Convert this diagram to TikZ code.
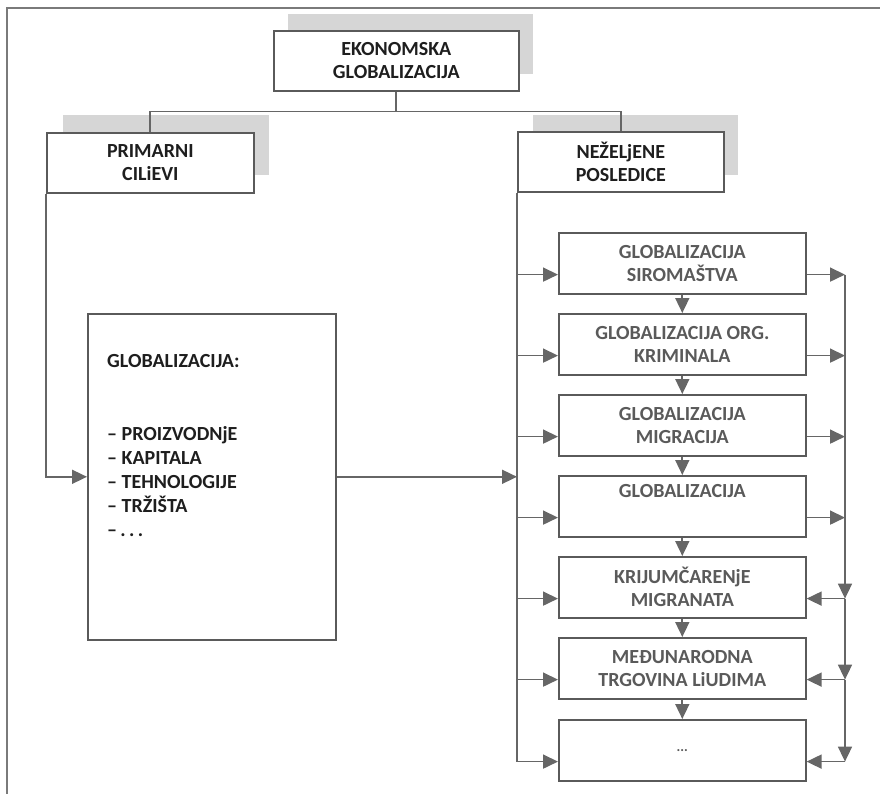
\documentclass[tikz,border=0pt]{standalone}
\usepackage{fontspec}
\setmainfont{Carlito}
\usetikzlibrary{arrows.meta}
\definecolor{ln}{HTML}{666666}
\definecolor{bx}{HTML}{5A5A5A}
\definecolor{shd}{HTML}{D6D6D6}
\definecolor{tg}{HTML}{5A5A5A}
\definecolor{tb}{HTML}{1E1E1E}
\definecolor{fr}{HTML}{7A7A7A}
\begin{document}
\begin{tikzpicture}[x=1pt,y=-1pt,
  box/.style={draw=bx, line width=1.6pt, fill=white, inner sep=0pt, align=center,
    font=\fontsize{20}{23}\selectfont\bfseries, anchor=north west},
  hdr/.style={box, text=tb, minimum height=60pt},
  rbox/.style={box, text=tg, minimum width=247pt, minimum height=61pt},
  conn/.style={draw=ln, line width=1.7pt},
  arr/.style={conn, -{Triangle[length=15pt,width=14pt]}},
  shadow/.style={fill=shd, draw=none}]
\useasboundingbox (0,0) rectangle (880,794);
% frame
\draw[fr, line width=2pt] (7,794) -- (7,8.5) -- (880,8.5);
% shadows
\fill[shadow] (288,14) rectangle (533,74);
\fill[shadow] (63,115) rectangle (269,175);
\fill[shadow] (533,115) rectangle (738,175);
% header boxes
\node[hdr, minimum width=245pt] (top) at (273,30) {EKONOMSKA\\GLOBALIZACIJA};
\node[hdr, minimum width=207pt] (prim) at (46,132) {PRIMARNI\\CILiEVI};
\node[hdr, minimum width=206pt] (neg) at (517,131) {NEŽELjENE\\POSLEDICE};
% big box
\node[box, minimum width=248pt, minimum height=326pt] (big) at (87,313) {};
\node[anchor=north west, inner sep=0pt, align=left, text=tb,
  font=\fontsize{20}{24}\selectfont\bfseries] (bt) at (107,354)
  {GLOBALIZACIJA:\\[49pt]– PROIZVODNjE\\– KAPITALA\\– TEHNOLOGIJE\\– TRŽIŠTA\\–\,.\,.\,.};
% right boxes
\node[rbox] (r1) at (558,232) {GLOBALIZACIJA\\SIROMAŠTVA};
\node[rbox] (r2) at (558,313) {GLOBALIZACIJA ORG.\\KRIMINALA};
\node[rbox] (r3) at (558,394) {GLOBALIZACIJA\\MIGRACIJA};
\node[rbox] (r4) at (558,475) {GLOBALIZACIJA\\\strut};
\node[rbox] (r5) at (558,556) {KRIJUMČARENjE\\MIGRANATA};
\node[rbox] (r6) at (558,637) {MEĐUNARODNA\\TRGOVINA LiUDIMA};
\node[rbox, font=\fontsize{14}{16}\selectfont\bfseries] (r7) at (558,719) {...};
% anchor coordinates for branches
\foreach \i in {1,...,7}{
  \coordinate (L\i) at ([yshift=20pt]r\i.south west);
  \coordinate (R\i) at ([yshift=20pt]r\i.south east);
}
\coordinate (rb) at (845,273);
% top connectors
\draw[conn] (top.south) -- ++(0,20) coordinate (tj);
\draw[conn] (prim.north) |- (tj) -| (neg.north);
% left side
\draw[arr] (prim.south west) |- (big.west);
\draw[arr] (big.east) -- (big.east -| neg.south west);
% left bus
\draw[conn] (neg.south west) -- (neg.south west |- L7);
\foreach \i in {1,...,7}{
  \draw[arr] (neg.south west |- L\i) -- (L\i);
}
% down arrows between boxes
\draw[arr] (r1.south) -- (r2.north);
\draw[arr] (r2.south) -- (r3.north);
\draw[arr] (r3.south) -- (r4.north);
\draw[arr] (r4.south) -- (r5.north);
\draw[arr] (r5.south) -- (r6.north);
\draw[arr] (r6.south) -- (r7.north);
% right side
\foreach \i in {1,...,4}{
  \draw[arr] (R\i) -- (R\i -| rb);
}
\draw[arr] (R1 -| rb) -- (R5 -| rb);
\draw[arr] (R5 -| rb) -- (R6 -| rb);
\draw[arr] (R6 -| rb) -- (R7 -| rb);
\foreach \i in {5,6,7}{
  \draw[arr] (R\i -| rb) -- (R\i);
}
\end{tikzpicture}
\end{document}
